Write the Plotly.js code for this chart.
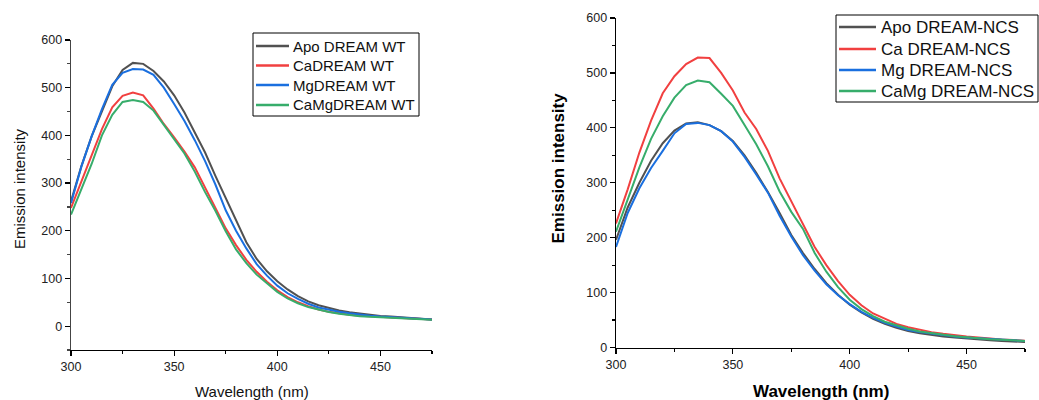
<!DOCTYPE html>
<html>
<head>
<meta charset="utf-8">
<script src="https://cdn.plot.ly/plotly-3.0.1.min.js"></script>
<style>html,body{margin:0;padding:0;background:#fff;}#chart{width:1039px;height:400px;}</style>
</head>
<body>
<div id="chart"></div>
<script>
// Wavelength (nm)
const wavelength = [300,305,310,315,320,325,330,335,340,345,350,355,360,365,370,375,380,385,390,395,400,405,410,415,420,425,430,435,440,445,450,455,460,465,470,475];

// Left panel: DREAM WT
const seriesNamesWT = ["Apo DREAM WT","CaDREAM WT","MgDREAM WT","CaMgDREAM WT"];
const apoWT  = [262,335,398,452,503,537,552,550,535,513,484,448,405,364,315,268,220,176,141,115,94,77,63,52,44,38,33,29,26,23.5,21.5,20,18.5,17,15.5,14];
const caWT   = [248,304,356,413,459,483,490,484,456,424,396,366,333,292,248,205,170,139,114,93,75,61,50,42,35,30,26.5,24,22,20.5,19,18,17,16,15,14];
const mgWT   = [258,334,398,455,506,531,539,538,527,500,466,430,390,346,297,243,200,163,130,106,85,69,57,47,39,34,30,27,24,22,20,18.5,17,16,15,14];
const camgWT = [234,288,340,400,443,470,474,470,452,422,393,362,324,281,242,199,161,132,108,89,72,58,48,40,34,29.5,26,23,21,19.5,18.5,17.5,16.5,15.5,14.5,13.5];

// Right panel: DREAM-NCS
const seriesNamesNCS = ["Apo DREAM-NCS","Ca DREAM-NCS","Mg DREAM-NCS","CaMg DREAM-NCS"];
const apoNCS  = [196,255,300,340,372,395,408,410,405,394,376,350,318,283,245,205,172,143,117,96,78,64,52,43,36,30,26,22.5,20,18,16,14.5,13,12,11,10];
const caNCS   = [226,288,355,413,463,494,516,528,527,500,468,428,398,358,308,266,225,183,150,121,96,77,62,52,43,37,32,28,25,22,20,18,16,14.5,13.5,12.5];
const mgNCS   = [183,245,290,327,358,390,407,409,405,394,375,347,315,282,240,202,168,140,115,95,79,65,54,45,38,32,28,25,22,20,18,16.5,15,14,13,12];
const camgNCS = [211,268,328,380,421,455,478,486,483,462,440,405,370,330,284,247,216,172,138,110,87,70,57,47,40,34,29,26,23,20.5,18.5,16.5,15,14,13,12];

const colors = ["#515151","#F14040","#1A6FDF","#37AD6B"];
const font = "Liberation Sans, Arial, sans-serif";

const leftData = [apoWT, caWT, mgWT, camgWT];
const rightData = [apoNCS, caNCS, mgNCS, camgNCS];

const traces = [];
leftData.forEach((ys, i) => traces.push({
  x: wavelength, y: ys, name: seriesNamesWT[i], type: "scatter", mode: "lines",
  line: {color: colors[i], width: 2}, xaxis: "x", yaxis: "y", showlegend: false
}));
rightData.forEach((ys, i) => traces.push({
  x: wavelength, y: ys, name: seriesNamesNCS[i], type: "scatter", mode: "lines",
  line: {color: colors[i], width: 2}, xaxis: "x2", yaxis: "y2", showlegend: false
}));

const W = 1039, H = 400;
const px = v => v / W;          // pixel x -> paper
const py = v => (H - v) / H;    // pixel y -> paper

function axisBase() {
  return {
    showgrid: false, zeroline: false, showline: true, linecolor: "#000", linewidth: 1.3,
    ticks: "outside", ticklen: 5, tickwidth: 1.2, tickcolor: "#000",
    tickfont: {family: font, size: 12.5, color: "#222"},
    fixedrange: true
  };
}

// Legend boxes drawn as shapes + text annotations (Origin-style compact legend)
const shapes = [];
const annotations = [];
function addLegend(names, box, rows, lineX0, lineX1, textX, fontSize) {
  shapes.push({type: "rect", xref: "paper", yref: "paper",
    x0: px(box[0]), x1: px(box[1]), y0: py(box[3]), y1: py(box[2]),
    line: {color: "#000", width: 1}, fillcolor: "#fff", layer: "above"});
  names.forEach((n, i) => {
    shapes.push({type: "line", xref: "paper", yref: "paper",
      x0: px(lineX0), x1: px(lineX1), y0: py(rows[i]), y1: py(rows[i]),
      line: {color: colors[i], width: 2.5}, layer: "above"});
    annotations.push({text: n, xref: "paper", yref: "paper", x: px(textX), y: py(rows[i]),
      xanchor: "left", yanchor: "middle", showarrow: false, borderpad: 0,
      font: {family: font, size: fontSize, color: "#111"}});
  });
}
addLegend(seriesNamesWT, [253, 419, 33, 116], [46, 65.5, 85, 105], 256, 289, 292, 15);
addLegend(seriesNamesNCS, [836, 1038, 15, 102], [27, 49, 70, 91], 839, 876, 880, 17);

annotations.push(
  {text: "Emission intensity", xref: "paper", yref: "paper", x: px(19), y: py(189),
   xanchor: "center", yanchor: "middle", textangle: -90, showarrow: false,
   font: {family: font, size: 15, color: "#111"}},
  {text: "Wavelength (nm)", xref: "paper", yref: "paper", x: px(251.7), y: py(391.7),
   xanchor: "center", yanchor: "middle", showarrow: false,
   font: {family: font, size: 15, color: "#111"}},
  {text: "<b>Emission intensity</b>", xref: "paper", yref: "paper", x: px(558), y: py(168.5),
   xanchor: "center", yanchor: "middle", textangle: -90, showarrow: false,
   font: {family: font, size: 17, color: "#000"}},
  {text: "<b>Wavelength (nm)</b>", xref: "paper", yref: "paper", x: px(821), y: py(391.7),
   xanchor: "center", yanchor: "middle", showarrow: false,
   font: {family: font, size: 17, color: "#000"}}
);

const layout = {
  width: W, height: H,
  margin: {l: 0, r: 0, t: 0, b: 0},
  paper_bgcolor: "#fff", plot_bgcolor: "#fff",
  showlegend: false,
  xaxis: Object.assign(axisBase(), {
    domain: [px(71), px(432)], range: [300, 475], tick0: 300, dtick: 50, anchor: "y",
    minor: {dtick: 25, ticks: "outside", ticklen: 3, tickcolor: "#000"}
  }),
  yaxis: Object.assign(axisBase(), {
    domain: [py(350), py(40)], range: [-50, 600], tick0: 0, dtick: 100, anchor: "x",
    linecolor: "#444",
    minor: {dtick: 50, ticks: "outside", ticklen: 3, tickcolor: "#444"}
  }),
  xaxis2: Object.assign(axisBase(), {
    domain: [px(616), px(1025)], range: [300, 475], tick0: 300, dtick: 50, anchor: "y2",
    minor: {dtick: 25, ticks: "outside", ticklen: 3, tickcolor: "#000"}
  }),
  yaxis2: Object.assign(axisBase(), {
    domain: [py(347.5), py(18)], range: [0, 600], tick0: 0, dtick: 100, anchor: "x2",
    minor: {dtick: 50, ticks: "outside", ticklen: 3, tickcolor: "#000"}
  }),
  shapes: shapes,
  annotations: annotations
};

Plotly.newPlot("chart", traces, layout, {staticPlot: true, displayModeBar: false});
</script>
</body>
</html>
